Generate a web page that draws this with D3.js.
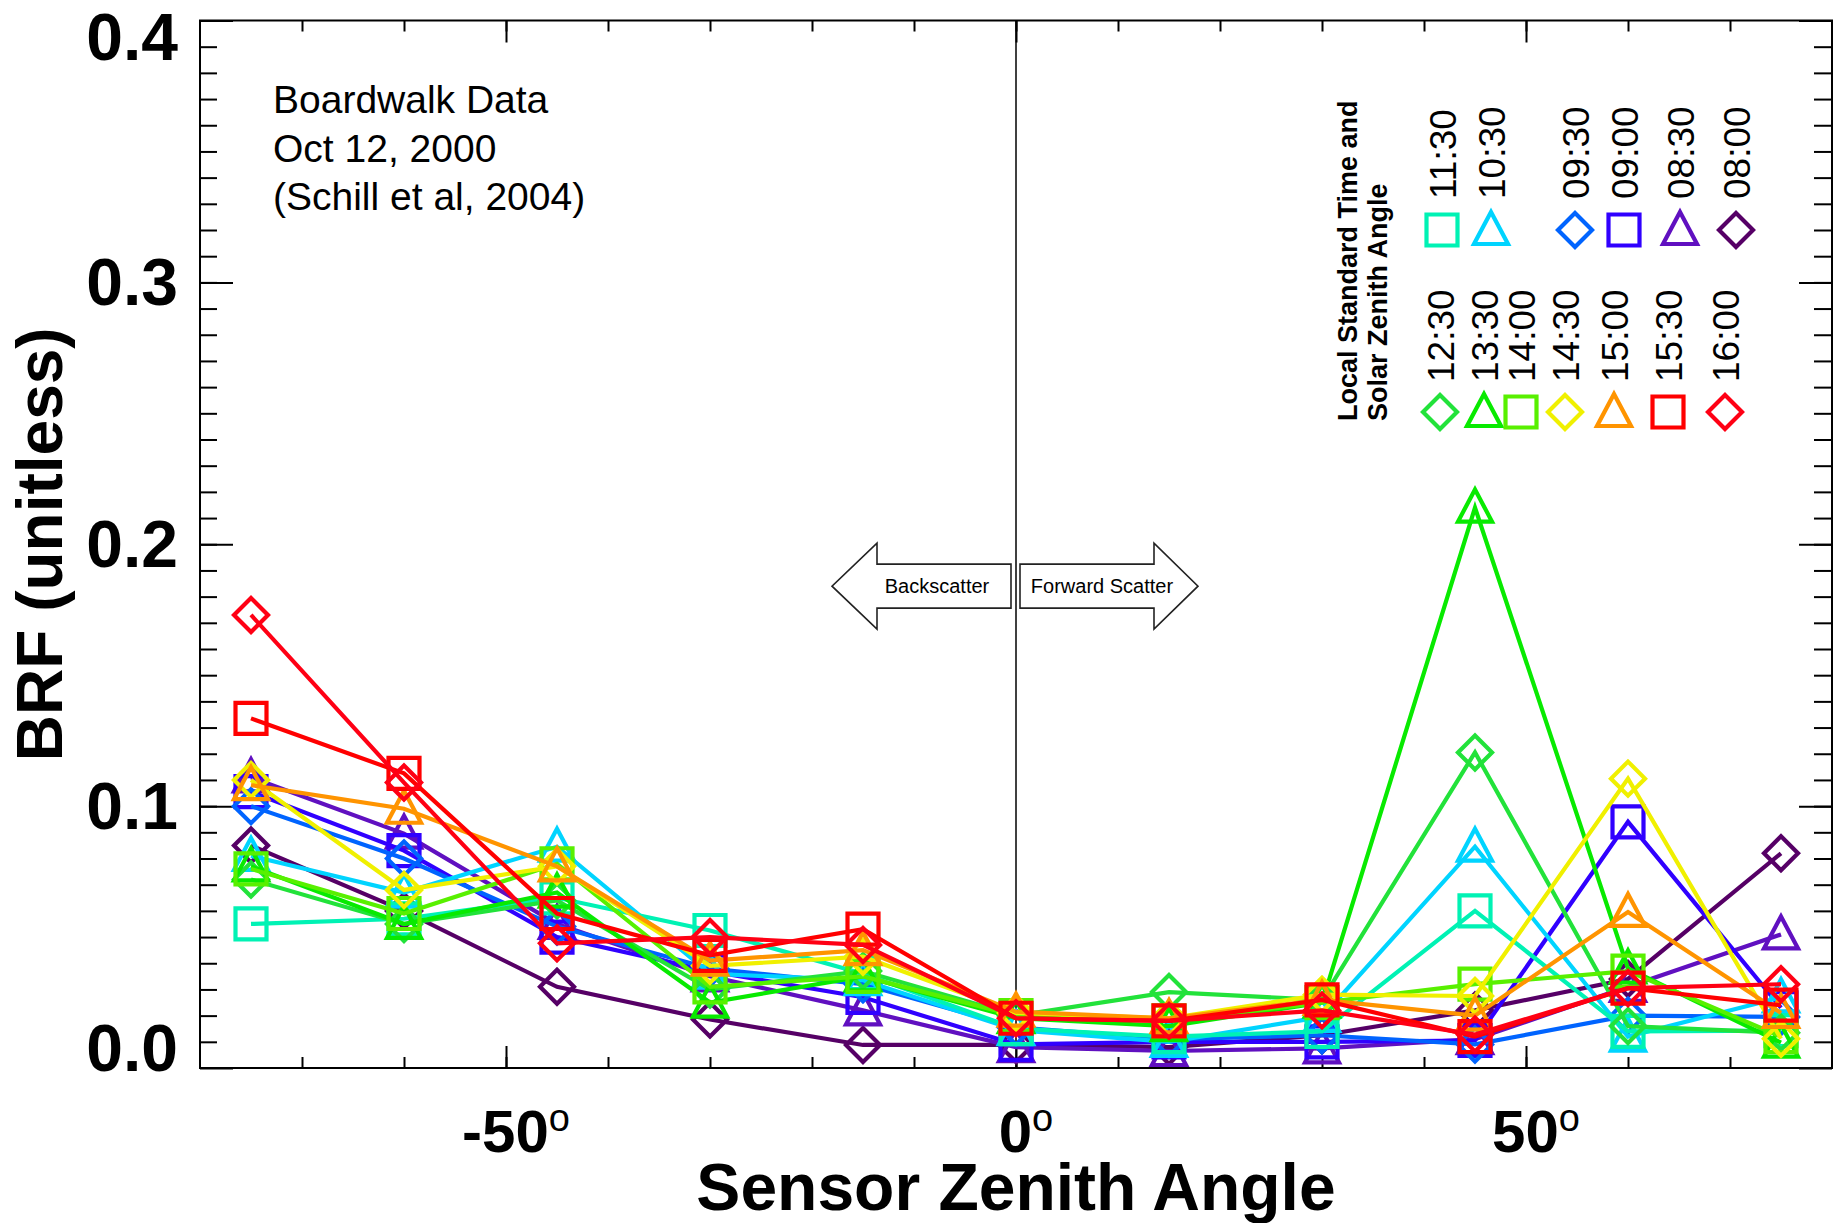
<!DOCTYPE html>
<html><head><meta charset="utf-8">
<script src="https://cdn.jsdelivr.net/npm/d3@7"></script>
<style>body{margin:0;background:#fff} svg{display:block}</style>
</head><body>
<svg id="chart" width="1841" height="1223"></svg>
<script>
// ---------- data ----------
const angles = [-75, -60, -45, -30, -15, 0, 15, 30, 45, 60, 75];
const times  = ["08:00","08:30","09:00","09:30","10:30","11:30","12:30","13:30","14:00","14:30","15:00","15:30","16:00"];
const shapes = ["diamond","triangle","square","diamond","triangle","square","diamond","triangle","square","diamond","triangle","square","diamond"];
const colors = ["#560066","#6010C0","#3000FF","#0064FF","#00D4FF","#00F2B4","#22E23A","#08EA00","#58F000","#F0F000","#FF9400","#FF0000","#FF0014"];

const brf0800 = [0.085, 0.060, 0.031, 0.0185, 0.0088, 0.0088, 0.008, 0.0125, 0.022, 0.034, 0.082];
const brf0830 = [0.111, 0.0895, 0.055, 0.035, 0.022, 0.008, 0.0065, 0.0075, 0.011, 0.031, 0.051];
const brf0900 = [0.1055, 0.083, 0.050, 0.037, 0.027, 0.009, 0.010, 0.010, 0.0105, 0.094, 0.023];
const brf0930 = [0.100, 0.080, 0.054, 0.038, 0.032, 0.0155, 0.011, 0.0125, 0.009, 0.020, 0.0195];
const brf1030 = [0.081, 0.067, 0.0845, 0.036, 0.0335, 0.0145, 0.010, 0.0195, 0.0845, 0.012, 0.027];
const brf1130 = [0.055, 0.057, 0.065, 0.0525, 0.036, 0.015, 0.012, 0.014, 0.060, 0.014, 0.0143];
const brf1230 = [0.072, 0.055, 0.064, 0.030, 0.037, 0.020, 0.029, 0.026, 0.1205, 0.016, 0.0135];
const brf1330 = [0.077, 0.055, 0.067, 0.025, 0.035, 0.019, 0.016, 0.025, 0.214, 0.038, 0.0097];
const brf1400 = [0.076, 0.059, 0.078, 0.031, 0.035, 0.020, 0.018, 0.025, 0.032, 0.037, 0.012];
const brf1430 = [0.110, 0.068, 0.077, 0.039, 0.0425, 0.021, 0.019, 0.028, 0.0275, 0.1105, 0.0112];
const brf1500 = [0.108, 0.099, 0.077, 0.041, 0.045, 0.0215, 0.019, 0.026, 0.020, 0.0596, 0.021];
const brf1530 = [0.1335, 0.1125, 0.059, 0.043, 0.053, 0.019, 0.018, 0.026, 0.012, 0.0305, 0.024];
const brf1600 = [0.173, 0.109, 0.0476, 0.050, 0.047, 0.019, 0.018, 0.022, 0.0128, 0.0305, 0.032];

const seriesValues = [brf0800, brf0830, brf0900, brf0930, brf1030, brf1130, brf1230, brf1330, brf1400, brf1430, brf1500, brf1530, brf1600];

const yMajorTicks = [0, 0.1, 0.2, 0.3, 0.4];
const yTickLabels = ["0.0", "0.1", "0.2", "0.3", "0.4"];
const xMajorTicks = [-50, 0, 50];
const xTickLabels = ["-50", "0", "50"];

const annotationLines = ["Boardwalk Data", "Oct 12, 2000", "(Schill et al, 2004)"];
const legendTitle = ["Local Standard Time and", "Solar Zenith Angle"];
const legendRow1 = ["11:30", "10:30", "09:30", "09:00", "08:30", "08:00"];
const legendRow2 = ["12:30", "13:30", "14:00", "14:30", "15:00", "15:30", "16:00"];

// ---------- layout ----------
const W = 1841, H = 1223;
const L = 200, R = 1832, T = 20.5, B = 1068;
const FONT = "'Liberation Sans', Arial, Helvetica, sans-serif";

const svg = d3.select("#chart");
svg.append("rect").attr("width", W).attr("height", H).attr("fill", "#fff");

const x = d3.scaleLinear().domain([-80, 80]).range([L, R]);
const y = d3.scaleLinear().domain([0, 0.4]).range([B, T]);

// ---------- axes (ticks) ----------
const yMinor = d3.range(1, 40).map(i => i / 100);
const xMinor = d3.range(-70, 80, 10);

function styleAxis(g) {
  g.select(".domain").remove();
  g.selectAll(".tick line").attr("stroke", "#000").attr("stroke-width", 2);
  g.selectAll(".tick text").remove();
}
svg.append("g").attr("transform", `translate(${L},0)`)
  .call(d3.axisLeft(y).tickValues(yMinor).tickSize(-17)).call(styleAxis);
svg.append("g").attr("transform", `translate(${L},0)`)
  .call(d3.axisLeft(y).tickValues(yMajorTicks).tickSize(-33)).call(styleAxis);
svg.append("g").attr("transform", `translate(${R},0)`)
  .call(d3.axisRight(y).tickValues(yMinor).tickSize(-18)).call(styleAxis);
svg.append("g").attr("transform", `translate(${R},0)`)
  .call(d3.axisRight(y).tickValues(yMajorTicks).tickSize(-33)).call(styleAxis);
svg.append("g").attr("transform", `translate(0,${B})`)
  .call(d3.axisBottom(x).tickValues(xMinor).tickSize(-11)).call(styleAxis);
svg.append("g").attr("transform", `translate(0,${B})`)
  .call(d3.axisBottom(x).tickValues(xMajorTicks).tickSize(-22)).call(styleAxis);
svg.append("g").attr("transform", `translate(0,${T})`)
  .call(d3.axisTop(x).tickValues(xMinor).tickSize(-11)).call(styleAxis);
svg.append("g").attr("transform", `translate(0,${T})`)
  .call(d3.axisTop(x).tickValues(xMajorTicks).tickSize(-22)).call(styleAxis);

// frame
svg.append("rect").attr("x", L).attr("y", T).attr("width", R - L).attr("height", B - T)
  .attr("fill", "none").attr("stroke", "#000").attr("stroke-width", 2);

// zero line
svg.append("line").attr("x1", x(0)).attr("x2", x(0)).attr("y1", T).attr("y2", B)
  .attr("stroke", "#000").attr("stroke-width", 1.5);

// y tick labels
svg.append("g").selectAll("text").data(yMajorTicks).join("text")
  .attr("x", 178)
  .attr("y", d => Math.min(Math.max(y(d), 37), 1048) + 23)
  .attr("text-anchor", "end")
  .attr("font-family", FONT).attr("font-weight", "bold").attr("font-size", 66)
  .text((d, i) => yTickLabels[i]);

// x tick labels with superscript o
const xl = svg.append("g").selectAll("text").data(xMajorTicks).join("text")
  .attr("x", d => x(d) + 10).attr("y", 1152)
  .attr("text-anchor", "middle")
  .attr("font-family", FONT);
xl.append("tspan").attr("font-weight", "bold").attr("font-size", 60).text((d, i) => xTickLabels[i]);
xl.append("tspan").attr("font-size", 38).attr("dy", -21).text("o");

// axis titles
svg.append("text").attr("x", (L + R) / 2).attr("y", 1210).attr("text-anchor", "middle")
  .attr("font-family", FONT).attr("font-weight", "bold").attr("font-size", 66)
  .text("Sensor Zenith Angle");
svg.append("text").attr("transform", `translate(62,${(T + B) / 2}) rotate(-90)`)
  .attr("text-anchor", "middle")
  .attr("font-family", FONT).attr("font-weight", "bold").attr("font-size", 64)
  .text("BRF (unitless)");

// annotation
svg.append("g").selectAll("text").data(annotationLines).join("text")
  .attr("x", 273).attr("y", (d, i) => 113 + i * 48.5)
  .attr("font-family", FONT).attr("font-size", 39)
  .text(d => d);

// arrows
const x0 = x(0), yc = y(0.184);
const leftArrow = [[x0-5,yc-22],[x0-139,yc-22],[x0-139,yc-43],[x0-184,yc],[x0-139,yc+43],[x0-139,yc+22],[x0-5,yc+22]];
const rightArrow = [[x0+4,yc-22],[x0+138,yc-22],[x0+138,yc-43],[x0+182,yc],[x0+138,yc+43],[x0+138,yc+22],[x0+4,yc+22]];
[leftArrow, rightArrow].forEach(pts => {
  svg.append("polygon").attr("points", pts.map(p => p.join(",")).join(" "))
    .attr("fill", "#fff").attr("stroke", "#222").attr("stroke-width", 1.6);
});
svg.append("text").attr("x", x0 - 79).attr("y", yc + 7).attr("text-anchor", "middle")
  .attr("font-family", FONT).attr("font-size", 20).text("Backscatter");
svg.append("text").attr("x", x0 + 86).attr("y", yc + 7).attr("text-anchor", "middle")
  .attr("font-family", FONT).attr("font-size", 20).text("Forward Scatter");

// ---------- markers ----------
function markerPath(shape) {
  if (shape === "square") return "M-15.5,-15.5H15.5V15.5H-15.5Z";
  if (shape === "diamond") return "M0,-17L17,0L0,17L-17,0Z";
  return "M0,-18L17,14H-17Z";
}

// ---------- series ----------
const line = d3.line().x(d => x(d[0])).y(d => y(d[1]));
times.forEach((t, si) => {
  const pts = angles.map((a, i) => [a, seriesValues[si][i]]);
  const g = svg.append("g");
  g.append("path").attr("d", line(pts)).attr("fill", "none")
    .attr("stroke", colors[si]).attr("stroke-width", 4.2).attr("stroke-linejoin", "miter");
  g.selectAll("path.m").data(pts).join("path").attr("class", "m")
    .attr("transform", d => `translate(${x(d[0])},${y(d[1])})`)
    .attr("d", markerPath(shapes[si]))
    .attr("fill", "none").attr("stroke", colors[si]).attr("stroke-width", 4.2);
});

// ---------- legend ----------
const lg = svg.append("g");
lg.selectAll("text.title").data(legendTitle).join("text").attr("class", "title")
  .attr("transform", (d, i) => `translate(${1357 + i * 30},421) rotate(-90)`)
  .attr("font-family", FONT).attr("font-weight", "bold").attr("font-size", 27)
  .text(d => d);

const row1X = [1442, 1491, 1575, 1624, 1680, 1736];
const row2X = [1440, 1484, 1521, 1565, 1614, 1668, 1725];
function legendRow(labels, xs, labelY, symY) {
  labels.forEach((lab, i) => {
    const si = times.indexOf(lab);
    lg.append("text")
      .attr("transform", `translate(${xs[i] + 14},${labelY}) rotate(-90)`)
      .attr("font-family", FONT).attr("font-size", 37).text(lab);
    lg.append("path").attr("transform", `translate(${xs[i]},${symY})`)
      .attr("d", markerPath(shapes[si]))
      .attr("fill", "none").attr("stroke", colors[si]).attr("stroke-width", 4.2);
  });
}
legendRow(legendRow1, row1X, 199, 230);
legendRow(legendRow2, row2X, 382, 412);
</script>
</body></html>
